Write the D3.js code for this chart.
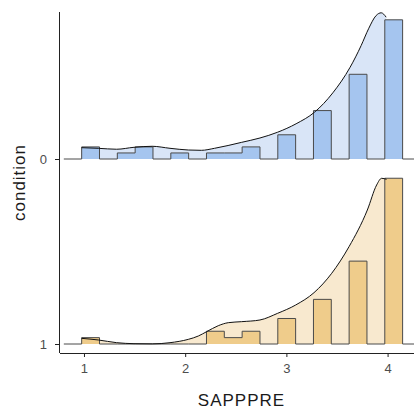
<!DOCTYPE html>
<html lang="en">
<head>
    <meta charset="UTF-8">
    <title>SAPPPRE by condition</title>
    <script src="https://d3js.org/d3.v7.min.js"></script>
    <style>
        body { margin: 0; background: #fff; }
        svg { display: block; font-family: "Liberation Sans", Arial, sans-serif; }
        .axis path, .axis line { stroke: #222; }
        .axis text { fill: #4d4d4d; font-size: 13px; }
        .title { fill: #1a1a1a; font-size: 17px; letter-spacing: 1px; }
    </style>
</head>
<body>
<svg id="chart" width="414" height="409"></svg>
<script>
    // categories, top to bottom
    const conditions = ["0", "1"];
    const xTicks = [1, 2, 3, 4];

    // histogram bins (18 bins, equal width)
    const binStart = 0.977;
    const binWidth = 0.1762;
    const counts0 = [2, 0, 1, 2, 0, 1, 0, 1, 1, 2, 0, 4, 0, 8, 0, 14, 0, 23];
    const counts1 = [1, 0, 0, 0, 0, 0, 0, 2, 1, 2, 0, 4, 0, 7, 0, 13, 0, 26];

    // density curves (density units)
    const densX0 = [0.977, 1.141, 1.323, 1.494, 1.675, 1.850, 2.031, 2.160, 2.290, 2.558, 2.739, 2.914, 3.096, 3.278, 3.459, 3.630, 3.739, 3.812, 3.887, 3.937, 3.986];
    const densY0 = [0.180, 0.170, 0.155, 0.186, 0.202, 0.170, 0.143, 0.138, 0.170, 0.265, 0.334, 0.426, 0.560, 0.744, 1.052, 1.459, 1.804, 2.070, 2.281, 2.324, 2.254];
    const densX1 = [0.977, 1.141, 1.323, 1.494, 1.675, 1.850, 2.031, 2.130, 2.212, 2.327, 2.426, 2.558, 2.739, 2.914, 3.092, 3.273, 3.448, 3.619, 3.800, 3.892, 3.941, 3.990];
    const densY1 = [0.090, 0.064, 0.021, 0.005, 0.002, 0.021, 0.074, 0.127, 0.196, 0.291, 0.339, 0.355, 0.382, 0.488, 0.620, 0.816, 1.124, 1.547, 2.130, 2.528, 2.634, 2.618];

    const fillArea = ["#d9e5f7", "#f8e9cf"];
    const fillBars = ["#a5c5ef", "#efcc8b"];

    const svg = d3.select("#chart");
    const mLeft = 60, mRight = 423, mTop = 12, mBottom = 353;

    const x = d3.scaleLinear().domain([0.763, 4.35]).range([mLeft, mRight]);
    const y = d3.scalePoint().domain(conditions).range([mTop + 147, mBottom - 9]);
    const spacing = y("1") - y("0");

    // turn counts into densities so both groups share one height scale
    function histDensity(counts) {
        const n = d3.sum(counts);
        return counts.map(c => c / (n * binWidth));
    }
    const groups = [
        { key: "0", hist: histDensity(counts0), dx: densX0, dy: densY0 },
        { key: "1", hist: histDensity(counts1), dx: densX1, dy: densY1 }
    ];
    const maxH = d3.max(groups, g => d3.max(g.hist));
    const h = d3.scaleLinear().domain([0, maxH]).range([0, spacing * 0.896]);

    svg.append("clipPath").attr("id", "plotclip")
        .append("rect").attr("x", mLeft).attr("y", 0).attr("width", mRight - mLeft).attr("height", mBottom);

    const plot = svg.append("g").attr("clip-path", "url(#plotclip)");

    groups.forEach((g, gi) => {
        const base = y(g.key);
        const gg = plot.append("g");

        // density area
        const dpts = g.dx.map((d, i) => [d, g.dy[i]]);
        gg.append("path")
            .datum(dpts)
            .attr("fill", fillArea[gi])
            .attr("d", d3.area().curve(d3.curveMonotoneX)
                .x(d => x(d[0])).y0(base).y1(d => base - h(d[1])));

        // histogram as step outline, with an empty pad bin each side
        const steps = [];
        const nb = g.hist.length;
        for (let i = -1; i <= nb; i++) {
            const v = (i < 0 || i >= nb) ? 0 : g.hist[i];
            const x0 = binStart + i * binWidth, x1 = x0 + binWidth;
            steps.push([x0, v], [x1, v]);
        }
        gg.append("path")
            .datum(steps)
            .attr("fill", fillBars[gi])
            .attr("d", d3.area().x(d => x(d[0])).y0(base).y1(d => base - h(d[1])));
        gg.append("path")
            .datum(steps)
            .attr("fill", "none")
            .attr("stroke", "#4a4a4a")
            .attr("stroke-width", 1)
            .attr("d", d3.line().x(d => x(d[0])).y(d => base - h(d[1])));

        // density line
        gg.append("path")
            .datum(dpts)
            .attr("fill", "none")
            .attr("stroke", "#111")
            .attr("stroke-width", 1)
            .attr("d", d3.line().curve(d3.curveMonotoneX)
                .x(d => x(d[0])).y(d => base - h(d[1])));
    });

    // axes
    svg.append("g").attr("class", "axis")
        .attr("transform", `translate(0,${mBottom})`)
        .call(d3.axisBottom(x).tickValues(xTicks).tickFormat(d3.format("d")).tickSizeOuter(0).tickSize(4).tickPadding(7))
        .call(a => a.select(".domain").attr("d", `M${mLeft},0.5H${mRight}`));

    svg.append("g").attr("class", "axis")
        .attr("transform", `translate(${mLeft},0)`)
        .call(d3.axisLeft(y).tickSizeOuter(0).tickSize(5).tickPadding(8))
        .call(a => a.select(".domain").attr("d", `M-0.5,${mTop}V${mBottom}`));

    svg.append("text").attr("class", "title")
        .attr("x", (mLeft + mRight) / 2).attr("y", 406)
        .attr("text-anchor", "middle")
        .text("SAPPPRE");

    svg.append("text").attr("class", "title")
        .attr("transform", `translate(25,${(mTop + mBottom) / 2}) rotate(-90)`)
        .attr("text-anchor", "middle")
        .text("condition");
</script>
</body>
</html>
